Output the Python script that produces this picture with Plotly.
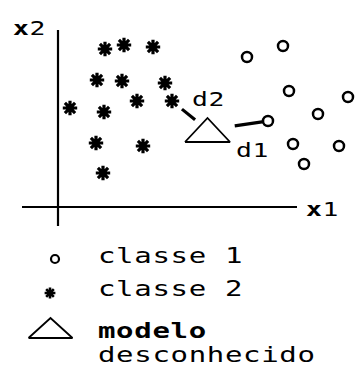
import plotly.graph_objects as go

# Feature-space samples (x1, x2)
classe1_x1 = [18.9, 22.5, 23.1, 29.0, 26.0, 21.0, 23.5, 28.1, 24.6]
classe1_x2 = [15.0, 16.1, 11.6, 11.0, 9.3, 8.6, 6.3, 6.1, 4.3]

classe2_x1 = [4.7, 6.6, 9.5, 3.9, 6.4, 10.7, 7.9, 11.4, 1.2, 4.6, 3.8, 8.5, 4.5]
classe2_x2 = [15.8, 16.2, 16.0, 12.7, 12.6, 12.4, 10.6, 10.6, 9.9, 9.5, 6.4, 6.1, 3.4]

# Unknown pattern and its nearest neighbour in each class
desconhecido_x1 = 14.95
desconhecido_x2 = 7.7
vizinho_d1 = (21.0, 8.6)   # nearest sample of classe 1
vizinho_d2 = (11.4, 10.6)  # nearest sample of classe 2

legend_labels = ["classe 1", "classe 2", "modelo", "desconhecido"]

FONT = "DejaVu Sans Mono"
INK = "black"

fig = go.Figure()

# class samples
fig.add_trace(go.Scatter(
    x=classe1_x1, y=classe1_x2, mode="markers",
    marker=dict(symbol="circle-open", size=10, line=dict(width=2.5, color=INK), color=INK),
    showlegend=False, hoverinfo="skip"))
fig.add_trace(go.Scatter(
    x=classe2_x1, y=classe2_x2, mode="markers",
    marker=dict(symbol="asterisk-open", size=12, line=dict(width=3.2, color=INK), color=INK),
    showlegend=False, hoverinfo="skip"))

# flat triangle for the unknown pattern
TRI_HW, TRI_H = 2.25, 2.4
def triangle(cx, cy, hw, h):
    xs = [cx - hw, cx, cx + hw, cx - hw]
    ys = [cy - h / 2, cy + h / 2, cy - h / 2, cy - h / 2]
    return xs, ys

tx, ty = triangle(desconhecido_x1, desconhecido_x2, TRI_HW, TRI_H)
fig.add_trace(go.Scatter(x=tx, y=ty, mode="lines", line=dict(color=INK, width=1.8),
                         showlegend=False, hoverinfo="skip"))

# distance segments, trimmed so they don't touch the marks
def segment(p0, p1, t0, t1):
    dx, dy = p1[0] - p0[0], p1[1] - p0[1]
    return ([p0[0] + dx * t0, p0[0] + dx * t1], [p0[1] + dy * t0, p0[1] + dy * t1])

origem = (desconhecido_x1, desconhecido_x2)
for viz, (t0, t1) in ((vizinho_d1, (0.45, 0.93)), (vizinho_d2, (0.35, 0.72))):
    sx, sy = segment(origem, viz, t0, t1)
    fig.add_trace(go.Scatter(x=sx, y=sy, mode="lines", line=dict(color=INK, width=3.2),
                             showlegend=False, hoverinfo="skip"))

# axes drawn as plain lines
fig.add_shape(type="line", x0=0, x1=0, y0=-1.9, y1=17.7, xref="x", yref="y",
              line=dict(color=INK, width=2.2))
fig.add_shape(type="line", x0=-3.6, x1=23.9, y0=0, y1=0, xref="x", yref="y",
              line=dict(color=INK, width=2.2))

annotations = [
    dict(text="<b>x</b>2", x=-4.75, y=17.9, xref="x", yref="y",
         font=dict(family=FONT, size=20, color=INK)),
    dict(text="<b>x</b>1", x=24.6, y=-0.2, xref="x", yref="y",
         font=dict(family=FONT, size=20, color=INK)),
    dict(text="d2", x=13.2, y=10.8, xref="x", yref="y",
         font=dict(family=FONT, size=20, color=INK)),
    dict(text="d1", x=17.6, y=5.7, xref="x", yref="y",
         font=dict(family=FONT, size=20, color=INK)),
]

# legend block on a pixel-unit overlay axis
fig.add_trace(go.Scatter(
    x=[55], y=[259], xaxis="x2", yaxis="y2", mode="markers",
    marker=dict(symbol="circle-open", size=8, color=INK, line=dict(width=2.2, color=INK)),
    showlegend=False, hoverinfo="skip"))
fig.add_trace(go.Scatter(
    x=[50], y=[293], xaxis="x2", yaxis="y2", mode="markers",
    marker=dict(symbol="asterisk-open", size=9, color=INK, line=dict(width=2.6, color=INK)),
    showlegend=False, hoverinfo="skip"))
lx, ly = triangle(50.5, 328, 22, -20)
fig.add_trace(go.Scatter(x=lx, y=ly, xaxis="x2", yaxis="y2", mode="lines",
                         line=dict(color=INK, width=1.8), showlegend=False, hoverinfo="skip"))

legend_y = [255, 288, 330, 354]
for label, yy in zip(legend_labels, legend_y):
    txt = "<b>%s</b>" % label if label == "modelo" else label
    annotations.append(dict(text=txt, x=96, y=yy, xref="x2", yref="y2",
                            font=dict(family=FONT, size=22, color=INK)))

for a in annotations:
    a.update(showarrow=False, xanchor="left", yanchor="middle", align="left")
fig.update_layout(annotations=annotations)

fig.update_layout(
    width=355, height=373,
    margin=dict(l=0, r=0, t=0, b=0),
    paper_bgcolor="white", plot_bgcolor="white",
    xaxis=dict(range=[-5.8, 29.7], visible=False, domain=[0, 1]),
    yaxis=dict(range=[-16.6, 20.7], visible=False, domain=[0, 1]),
    xaxis2=dict(range=[0, 355], visible=False, overlaying="x", anchor="y2"),
    yaxis2=dict(range=[373, 0], visible=False, overlaying="y", anchor="x2"),
    showlegend=False,
)

# wide typewriter-style lettering: stretch each label horizontally from its left edge
widen_js = (
    "document.querySelectorAll('.annotation-text').forEach(function(t){"
    "var x0=parseFloat(t.getAttribute('x'))||0;"
    "t.style.letterSpacing='0.5px';"
    "t.setAttribute('transform','translate('+x0+',0) scale(1.32,1) translate('+(-x0)+',0)');"
    "});"
)
fig.write_html("out.html", post_script=widen_js, config={"displayModeBar": False})
